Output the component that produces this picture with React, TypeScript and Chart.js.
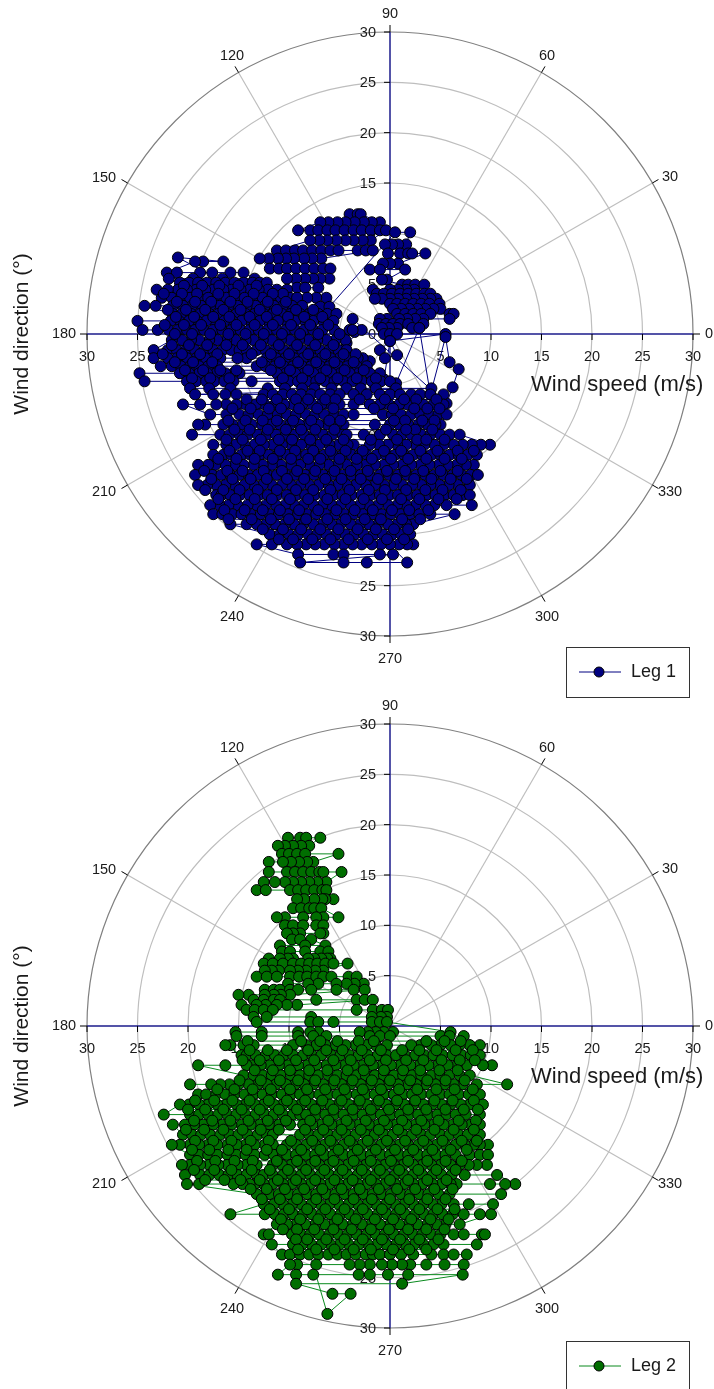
import React, { useEffect, useRef } from "react";
import { Chart, registerables } from "chart.js";

Chart.register(...registerables);

type Row = [number, number[]];

const radialTicks = [5, 10, 15, 20, 25, 30];
const angleTicks = [0, 30, 60, 90, 120, 150, 180, 210, 240, 270, 300, 330];

// Each row: [north component (m/s), east components (m/s)] of the wind vector
const leg1Cap: Row[] = [
  [11.9, [-4.0, -3.2, -2.9]],
  [11.1, [-6.9, -6.1, -5.2, -4.4, -3.5, -2.6, -1.8, -1.0]],
  [10.3, [-9.1, -7.9, -7.1, -6.2, -5.4, -4.5, -3.6, -2.8, -1.9, -1.0, -0.4]],
  [9.3, [-7.9, -7.0, -6.2, -5.3, -4.4, -3.6, -2.7, -1.9]],
  [8.3, [-11.2, -10.3, -9.4, -8.6, -7.7, -6.8, -5.9, -5.1, -3.2, -2.4, -1.7]],
  [7.5, [-12.9, -12.0, -11.1, -10.3, -9.5, -8.5, -7.7, -6.8]],
  [6.5, [-11.9, -11.0, -10.2, -9.3, -8.4, -7.5, -6.6, -5.9]],
  [5.5, [-10.2, -9.3, -8.4, -7.6, -6.9, -6.0]],
  [4.6, [-9.2, -8.4, -7.1]],
  [3.6, [-8.2, -7.3, -6.3]],
  [2.7, [-6.9, -6.0]],
];

const leg1Near: Row[] = [
  [10.1, [0.5, 2.0]],
  [8.9, [-0.5, 0.2, 0.8, 1.6]],
  [8.0, [-0.2, 1.0, 1.8, 2.2, 3.5]],
  [7.0, [-0.7, 0.0, 0.8]],
  [6.4, [-2.0, -1.0, 1.5]],
  [5.4, [-0.8, -0.3]],
  [4.9, [1.2, 1.8, 2.5, 3.4]],
  [4.4, [-1.7, 0.0, 0.8, 1.6, 2.4]],
  [4.0, [-1.3, -0.6, 0.2, 1.0, 1.8, 2.6, 3.4, 4.0]],
  [3.5, [-1.5, -0.8, 0.0, 0.8, 1.6, 2.4, 3.2, 4.0, 4.6]],
  [3.0, [0.0, 0.7, 1.5, 2.3, 3.1, 3.9, 4.9]],
  [2.5, [0.3, 1.1, 1.9, 2.7, 3.5, 4.3, 5.0]],
  [2.0, [0.7, 1.5, 2.3, 3.1, 4.0, 5.9, 6.3]],
  [1.5, [-1.0, -0.3, 0.9, 1.7, 2.5, 3.3, 5.9]],
  [1.0, [-1.1, -0.4, 0.3, 1.0, 1.8, 3.3]],
  [0.6, [-0.8, -0.1, 0.7, 2.2, 2.9]],
  [0.0, [-0.6, 0.0, 0.7, 5.5]],
];

const leg1Strays: [number, number][] = [
  [0.0, -0.7], [-1.0, -1.6], [-0.5, -2.4], [0.7, -2.1], [0.0, -0.7], [-0.6, -4.5], [0.6, -4.9],
  [2.9, 0.6], [4.0, -6.0], [5.5, -0.3], [5.9, -2.8], [6.8, -3.5], [6.2, -5.3], [5.6, -6.9],
  [-3.7, 1.5], [-4.0, 0.4], [-3.5, 0.2], [-2.8, 0.4], [-4.3, -0.9], [-3.4, -2.4], [-2.8, -3.0], [-2.0, -2.7],
];

const leg1West: Row[] = [
  [7.6, [-21.0]],
  [7.2, [-19.3, -18.5, -16.5]],
  [6.1, [-22.1, -21.1, -18.8, -17.6, -15.8, -14.5]],
  [5.5, [-21.9, -19.5, -16.6, -13.4]],
  [5.1, [-20.8, -19.9, -19.0, -18.1, -17.2, -16.3, -15.4, -14.5, -13.6, -12.9, -12.2]],
  [4.4, [-23.1, -22.0, -21.0, -20.1, -19.2, -18.3, -17.5, -16.5, -15.7, -14.8, -13.9, -13.0, -12.1, -11.2, -10.2]],
  [3.6, [-22.6, -21.6, -20.7, -19.8, -18.9, -18.0, -17.1, -16.2, -15.3, -14.4, -13.5, -12.6, -11.7, -10.8, -9.9, -9.2]],
  [2.8, [-24.3, -23.2, -21.5, -20.5, -19.6, -18.7, -17.8, -16.9, -16.0, -15.1, -14.2, -13.3, -12.4, -11.5, -10.6, -9.7, -8.7]],
  [2.0, [-21.5, -20.6, -19.7, -18.8, -17.9, -17.0, -16.1, -15.2, -14.3, -13.4, -12.5, -11.6, -10.7, -9.8, -8.9, -8.0, -7.1, -6.2, -5.3]],
  [1.3, [-25.0, -21.7, -20.9, -19.9, -19.1, -18.2, -17.4, -16.4, -15.6, -14.7, -13.8, -12.9, -12.1, -11.1, -10.3, -9.4, -8.4, -7.6, -6.6, -5.6]],
  [0.4, [-24.5, -23.0, -21.9, -21.0, -20.1, -19.3, -18.4, -17.5, -16.6, -15.7, -14.8, -13.9, -13.0, -12.1, -11.2, -10.3, -9.4, -8.5, -7.6, -6.7, -5.5, -3.7]],
  [-0.6, [-21.6, -20.6, -19.7, -18.9, -17.9, -17.1, -16.2, -15.3, -14.3, -13.5, -12.6, -11.7, -10.8, -9.9, -9.0, -8.1, -7.2, -6.3, -5.4, -4.4]],
  [-1.6, [-23.4, -22.0, -21.1, -20.2, -19.3, -18.4, -17.5, -16.6, -15.7, -14.9, -14.2, -13.2, -12.3, -11.4, -10.5, -9.6, -8.7, -7.8, -6.9, -6.0, -5.1, -4.3]],
  [-2.4, [-23.4, -22.0, -21.1, -20.1, -19.2, -18.3, -17.6, -16.8, -15.1, -14.2, -12.2, -11.3, -10.4, -9.5, -8.6, -7.7, -6.8, -5.9, -5.0, -4.1, -3.2, -2.7]],
  [-3.2, [-22.7, -21.6, -20.7, -19.8, -18.9, -18.0, -17.1, -13.2, -12.3, -11.4, -10.5, -9.6, -8.7, -7.8, -6.9, -6.0, -5.1, -4.2, -3.3, -2.3]],
  [-3.9, [-24.8, -20.8, -19.9, -18.9, -18.1, -17.2, -16.3, -15.5, -14.9, -11.2, -10.3, -9.4, -8.5, -7.6, -6.7, -5.8, -4.9, -4.0, -3.1, -2.0, -1.0]],
  [-4.7, [-24.3, -20.1, -19.2, -18.2, -17.4, -16.4, -15.5, -13.7, -10.9, -10.0, -9.1, -8.2, -7.3, -6.4, -5.5, -4.6, -3.7, -2.8, -1.8, -0.9, 0.0]],
];

const leg1WestExtra: Row[] = [
  [4.8, [-20.4, -18.6, -16.9, -15.0, -13.2]],
  [4.0, [-22.4, -20.6, -19.1, -17.0, -15.4, -13.5, -11.6, -10.6]],
  [3.2, [-21.1, -19.3, -17.7, -15.8, -14.1, -12.1, -10.3]],
  [2.4, [-22.0, -20.2, -18.3, -16.5, -14.8, -12.9, -11.2, -9.3, -7.6]],
  [1.7, [-21.2, -19.4, -17.5, -15.9, -13.9, -12.2, -10.1, -8.5, -6.7]],
  [0.9, [-22.3, -20.4, -18.7, -16.8, -15.2, -13.4, -11.6, -9.8, -7.9, -6.1]],
  [0.0, [-21.3, -19.6, -17.8, -16.0, -14.3, -12.5, -10.7, -8.9, -7.1, -5.0]],
  [-1.1, [-21.6, -19.9, -18.1, -16.2, -14.6, -12.8, -11.0, -9.2, -7.4, -5.6]],
  [-2.0, [-22.5, -20.6, -18.8, -17.1, -13.7, -11.8, -10.0, -8.1, -6.4, -4.6, -3.4]],
  [-2.8, [-21.3, -19.5, -17.6, -12.7, -10.9, -9.1, -7.3, -5.5, -3.6]],
  [-3.6, [-20.3, -18.5, -16.8, -15.2, -11.8, -9.9, -8.1, -6.3, -4.5, -2.6]],
  [-4.4, [-19.6, -17.8, -15.9, -10.6, -8.7, -6.9, -5.2, -3.3, -1.4]],
  [-5.4, [-19.8, -17.9, -15.8, -12.1, -10.4, -8.7, -7.5, -5.8, -4.3, -2.9, -1.4, 0.6, 4.1]],
];

const leg1South: Row[] = [
  [-6.0, [-19.3, -17.5, -16.3, -15.2, -12.5, -11.6, -10.6, -9.7, -8.8, -7.8, -6.9, -5.9, -5.0, -3.6, -2.3, -1.0, 0.0, 1.0, 2.1, 3.0, 4.0, 5.3]],
  [-7.0, [-20.5, -18.8, -17.2, -16.2, -15.2, -14.3, -13.3, -12.4, -11.4, -10.5, -9.6, -8.7, -7.7, -6.8, -5.9, -5.0, -3.6, -2.0, -1.0, -0.1, 0.9, 1.7, 3.3, 4.3, 5.3]],
  [-8.0, [-17.8, -16.2, -14.9, -14.0, -13.0, -12.1, -11.1, -10.2, -9.3, -8.3, -7.4, -6.5, -5.5, -4.6, -3.6, -0.7, 0.2, 1.1, 2.1, 3.0, 3.9, 4.8, 5.6]],
  [-9.0, [-19.0, -18.3, -16.5, -15.6, -14.6, -13.7, -12.7, -11.8, -10.9, -9.9, -9.0, -8.1, -7.1, -6.2, -5.3, -4.6, -1.5, 0.0, 0.9, 1.8, 2.8, 3.7, 4.5, 5.0]],
  [-10.0, [-19.6, -16.8, -15.9, -14.9, -14.1, -13.1, -12.2, -11.3, -10.3, -9.4, -8.5, -7.5, -6.6, -5.7, -4.7, -4.3, -2.6, -1.0, 0.3, 1.2, 2.1, 3.1, 4.0, 5.0, 5.9, 6.9]],
  [-11.0, [-17.5, -16.2, -15.3, -14.4, -13.4, -12.5, -11.6, -10.7, -9.8, -8.8, -7.9, -7.0, -6.0, -5.1, -4.2, -3.6, -2.0, -1.1, -0.2, 0.7, 1.6, 2.5, 3.4, 4.4, 5.3, 6.3, 7.2, 8.1, 9.0, 9.9]],
  [-12.0, [-17.5, -16.5, -15.7, -14.7, -13.8, -12.9, -12.0, -11.1, -10.2, -9.2, -8.3, -7.4, -6.5, -5.6, -4.7, -3.8, -3.0, -2.3, -1.3, -0.4, 0.5, 1.4, 2.3, 3.2, 4.1, 5.0, 5.9, 6.8, 7.7, 8.6]],
  [-13.0, [-19.0, -18.0, -17.3, -16.3, -15.4, -14.5, -13.5, -12.6, -11.7, -10.8, -9.8, -8.9, -8.0, -7.0, -6.1, -5.2, -4.3, -3.3, -2.4, -1.5, -0.6, 0.3, 1.2, 2.1, 3.0, 3.9, 4.8, 5.7, 6.6, 7.5, 8.3]],
  [-14.0, [-19.3, -17.6, -16.7, -15.8, -14.9, -14.0, -13.1, -12.1, -11.2, -10.3, -9.4, -8.4, -7.5, -6.6, -5.7, -4.7, -3.8, -2.9, -2.0, -1.0, -0.1, 0.8, 1.7, 2.6, 3.5, 4.4, 5.3, 6.2, 7.1, 8.0, 8.7]],
  [-15.0, [-19.0, -18.1, -17.2, -16.3, -15.4, -14.4, -13.5, -12.6, -11.7, -10.7, -9.8, -8.9, -8.0, -7.1, -6.1, -5.2, -4.3, -3.4, -2.4, -1.5, -0.6, 0.3, 1.2, 2.2, 3.1, 4.0, 4.9, 5.8, 6.7, 7.9]],
  [-16.0, [-17.2, -16.7, -15.8, -14.9, -13.9, -13.0, -12.1, -11.2, -10.2, -9.3, -8.4, -7.5, -6.5, -5.6, -4.7, -3.8, -2.8, -1.9, -1.0, -0.1, 0.8, 1.8, 2.7, 3.6, 4.5, 5.4, 6.3, 7.2, 7.9]],
  [-17.0, [-17.8, -16.9, -16.0, -15.1, -14.1, -13.2, -12.3, -11.3, -10.4, -9.5, -8.6, -7.6, -6.7, -5.8, -4.9, -3.9, -3.0, -2.1, -1.2, -0.2, 0.7, 1.6, 2.5, 3.5, 4.4, 5.6, 8.1]],
  [-17.9, [-17.5, -16.6, -15.6, -14.7, -13.8, -12.8, -11.9, -11.0, -10.1, -9.1, -8.2, -7.3, -6.4, -5.4, -4.5, -3.6, -2.7, -1.7, -0.8, 0.1, 1.0, 2.0, 2.9, 4.0, 6.4]],
  [-18.9, [-15.8, -14.2, -13.2, -12.3, -11.4, -10.4, -9.5, -8.6, -7.6, -6.7, -5.8, -4.9, -3.9, -3.0, -2.1, -1.2, -0.2, 0.7, 1.6, 2.3]],
  [-19.9, [-11.9, -10.9, -10.0, -9.1, -8.1, -7.2, -6.3, -5.3, -4.4, -3.5, -2.6, -1.6, -0.7, 0.2, 1.1, 2.0]],
  [-20.9, [-13.2, -11.7, -10.2, -9.2, -8.3, -7.4, -6.5, -5.5, -4.6, -3.7, -2.8, -1.8, -0.9, 0.0, 0.9, 1.7, 2.3]],
  [-21.9, [-9.1, -5.6, -4.6, -1.0, 0.3]],
  [-22.7, [1.7, -2.3, -4.6, -8.9]],
];

const leg1SouthExtra: Row[] = [
  [-6.5, [-14.2, -12.7, -11.2, -9.3, -8.1, -6.4, -5.4, -3.0, -0.5, 1.4, 2.6, 4.6]],
  [-7.4, [-15.6, -13.8, -12.0, -10.8, -9.0, -7.2, -5.6, -1.6, 0.3, 2.4, 3.7, 4.9]],
  [-8.6, [-16.0, -14.3, -12.6, -11.2, -9.6, -7.8, -6.0, -4.9, 0.4, 1.5, 3.2, 4.4]],
  [-9.5, [-15.4, -13.9, -12.1, -10.3, -8.8, -7.4, -5.5, -0.4, 1.6, 2.5, 4.2]],
  [-10.5, [-16.2, -14.6, -12.8, -11.0, -9.7, -7.9, -6.3, -4.6, -1.9, 0.7, 2.7, 3.6, 5.4]],
  [-11.6, [-15.9, -14.1, -12.9, -10.9, -9.4, -7.6, -5.9, -4.4, -2.7, -0.6, 1.1, 3.0, 4.7, 6.7, 8.3]],
  [-12.4, [-17.0, -15.2, -13.4, -11.6, -9.8, -8.1, -6.9, -5.0, -3.3, -1.8, 0.1, 1.8, 3.6, 5.4, 7.1]],
  [-13.6, [-18.4, -16.1, -14.6, -12.5, -10.7, -9.2, -7.4, -5.5, -3.9, -2.2, -0.3, 1.5, 3.3, 5.0, 6.7]],
  [-14.4, [-17.7, -15.6, -13.8, -12.2, -10.2, -8.5, -6.4, -4.8, -2.9, -1.2, 0.6, 2.4, 4.1, 6.0, 7.6]],
  [-15.5, [-18.3, -16.5, -14.9, -13.1, -11.2, -9.3, -7.6, -5.9, -4.0, -2.1, -0.5, 1.6, 3.5, 5.2, 7.0]],
  [-16.4, [-17.0, -15.3, -13.4, -11.7, -9.9, -8.1, -6.2, -4.4, -2.6, -0.8, 1.1, 2.9, 4.8, 6.6]],
  [-17.5, [-16.4, -14.4, -12.6, -10.9, -9.0, -7.1, -5.3, -3.5, -1.7, 0.2, 1.9, 3.8]],
  [-18.4, [-16.0, -13.7, -11.8, -10.0, -8.3, -6.2, -4.4, -2.5, -0.9, 1.2, 3.0]],
  [-19.4, [-12.6, -10.6, -8.8, -6.9, -5.1, -3.2, -1.4, 0.4, 1.8]],
  [-20.4, [-11.0, -9.6, -7.7, -5.9, -4.1, -2.2, -0.3, 1.4]],
];

const leg2Tower: Row[] = [
  [18.7, [-10.1, -8.9, -8.3, -6.9]],
  [17.9, [-11.1, -10.4, -9.6, -8.8, -8.0]],
  [17.1, [-10.7, -10.0, -9.2, -8.4, -5.1]],
  [16.3, [-12.0, -10.6, -9.8, -9.0, -8.2, -7.6]],
  [15.3, [-12.0, -10.2, -9.4, -8.6, -7.8, -7.0, -6.6, -4.8]],
  [14.3, [-12.5, -11.4, -10.4, -9.6, -8.8, -8.0, -7.2, -6.3]],
  [13.5, [-13.2, -12.3, -9.9, -9.1, -8.3, -7.5, -6.7, -6.3]],
  [12.6, [-9.2, -8.5, -7.5, -6.7, -6.4, -5.6]],
  [11.7, [-9.6, -8.8, -8.0, -7.5, -6.8]],
  [10.8, [-11.2, -10.4, -8.6, -7.3, -6.6, -5.1]],
  [10.0, [-10.4, -9.6, -8.6, -7.3, -6.6]],
  [9.2, [-10.2, -9.6, -8.9, -6.9, -6.6]],
  [8.6, [-9.7, -8.9, -7.8]],
  [8.0, [-10.9, -8.4, -6.4]],
  [7.4, [-10.7, -9.9, -8.4, -6.9, -6.1]],
  [6.7, [-12.0, -10.9, -10.1, -9.6, -8.1, -7.5, -6.8, -6.2, -5.9]],
  [6.2, [-12.5, -11.6, -10.6, -9.6, -8.8, -8.0, -7.2, -6.4, -5.6, -4.2]],
  [5.5, [-12.4, -11.7, -11.0, -9.9, -9.1, -8.3, -7.4, -6.6]],
  [4.9, [-13.2, -12.2, -11.2, -9.9, -9.0, -8.2, -7.3, -6.6, -5.8, -4.1, -3.3]],
  [4.2, [-10.1, -8.1, -7.1, -5.3, -4.3, -3.5, -2.6]],
  [3.6, [-12.4, -11.5, -10.9, -9.9, -9.1, -7.8, -5.3, -3.6, -2.5]],
  [3.1, [-15.0, -14.0, -12.4, -11.5, -10.8, -9.9]],
  [2.6, [-13.5, -12.5, -11.5, -10.9, -7.3, -3.3, -2.5, -1.7]],
  [2.1, [-14.7, -13.2, -12.3, -11.2, -10.2, -9.2]],
  [1.6, [-14.2, -13.4, -12.5, -11.6, -3.3, -1.7, -0.8, -0.2]],
  [0.9, [-13.5, -12.2, -7.8, -1.8, -0.9, -0.3]],
  [0.4, [-13.2, -7.9, -7.1, -5.6, -1.8, -1.0, -0.3]],
  [-0.6, [-15.3, -12.7, -9.1, -7.9, -7.1, -3.0, -2.2, -1.4, -0.6, 0.3, 6.0]],
];

const leg2Main: Row[] = [
  [-1.0, [-15.2, -12.7, -9.1, -7.6, -6.3, -2.0, -1.0, 0.0, 5.0, 5.9, 7.3]],
  [-1.9, [-16.3, -15.8, -14.5, -13.5, -9.6, -8.3, -7.3, -6.4, -5.4, -4.4, -3.4, -2.3, -1.4, -0.3, 2.1, 3.0, 4.1, 5.0, 6.0, 6.9, 7.9, 8.9]],
  [-2.9, [-14.7, -14.2, -13.3, -12.3, -11.4, -10.5, -9.6, -8.6, -7.7, -6.8, -5.8, -4.9, -4.0, -3.1, -2.2, -1.2, -0.3, 0.6, 1.5, 2.5, 3.4, 4.3, 5.2, 6.2, 7.1, 8.0, 8.9]],
  [-3.9, [-19.0, -16.3, -14.2, -13.7, -12.8, -11.9, -11.0, -10.1, -9.1, -8.2, -7.3, -6.3, -5.4, -4.5, -3.6, -2.7, -1.7, -0.8, 0.1, 1.0, 2.0, 2.9, 3.8, 4.7, 5.7, 6.6, 7.6, 9.2, 10.1]],
  [-4.9, [-14.5, -13.5, -12.6, -11.7, -10.8, -9.8, -8.9, -8.0, -7.1, -6.1, -5.2, -4.3, -3.3, -2.4, -1.5, -0.6, 0.4, 1.3, 2.2, 3.1, 4.1, 5.0, 5.9, 6.9, 7.9]],
  [-5.8, [-19.8, -17.7, -16.8, -15.9, -15.0, -14.0, -13.1, -12.2, -11.3, -10.3, -9.4, -8.5, -7.6, -6.6, -5.7, -4.8, -3.9, -2.9, -2.0, -1.1, -0.2, 0.8, 1.7, 2.6, 3.5, 4.5, 5.4, 6.3, 7.2, 8.6, 11.6]],
  [-6.8, [-19.0, -18.2, -17.2, -16.3, -15.4, -14.4, -13.5, -12.6, -11.7, -10.7, -9.8, -8.9, -8.0, -7.0, -6.1, -5.2, -4.3, -3.3, -2.4, -1.5, -0.6, 0.4, 1.3, 2.2, 3.1, 4.1, 5.0, 5.9, 6.8, 7.8, 8.9]],
  [-7.8, [-20.8, -19.9, -18.9, -18.0, -17.1, -16.2, -15.2, -14.3, -13.4, -12.5, -11.5, -10.6, -9.7, -8.8, -7.8, -6.9, -6.0, -5.1, -4.1, -3.2, -2.3, -1.4, -0.4, 0.5, 1.4, 2.3, 3.3, 4.2, 5.1, 6.0, 7.0, 7.9, 9.2]],
  [-8.8, [-22.4, -19.8, -18.9, -18.0, -17.0, -16.1, -15.2, -14.3, -13.3, -12.4, -11.5, -10.6, -9.6, -8.9, -8.3, -7.3, -6.4, -5.5, -4.6, -3.6, -2.7, -1.8, -0.9, 0.1, 1.0, 1.9, 2.8, 3.8, 4.7, 5.6, 6.5, 7.5, 8.9]],
  [-9.8, [-21.5, -20.3, -19.4, -18.5, -17.5, -16.6, -15.7, -14.7, -13.8, -12.9, -12.0, -11.0, -9.9, -8.6, -7.7, -6.8, -5.8, -4.9, -4.0, -3.1, -2.1, -1.2, -0.3, 0.6, 1.6, 2.5, 3.4, 4.3, 5.3, 6.2, 7.1, 8.0, 8.9]],
  [-10.8, [-20.5, -19.6, -18.7, -17.8, -16.8, -15.9, -15.0, -14.1, -13.1, -12.2, -11.6, -8.9, -8.0, -7.1, -6.1, -5.2, -4.3, -3.4, -2.4, -1.5, -0.6, 0.3, 1.3, 2.2, 3.1, 4.0, 5.0, 5.9, 6.8, 7.7, 8.9]],
  [-11.8, [-21.6, -20.8, -19.8, -18.9, -18.0, -17.1, -16.1, -15.2, -14.3, -13.4, -12.4, -11.6, -10.2, -9.3, -8.3, -7.4, -6.5, -5.6, -4.6, -3.7, -2.8, -1.9, -0.9, 0.0, 0.9, 1.8, 2.8, 3.7, 4.6, 5.5, 6.5, 7.4, 8.3, 8.9, 9.7]],
  [-12.8, [-19.8, -18.9, -18.0, -17.1, -16.1, -15.2, -14.3, -13.4, -12.4, -11.5, -10.6, -10.2, -9.3, -8.3, -7.4, -6.5, -5.6, -4.6, -3.7, -2.8, -1.9, -0.9, 0.0, 0.9, 1.8, 2.8, 3.7, 4.6, 5.5, 6.5, 7.9, 8.9, 9.7]],
  [-13.8, [-20.6, -19.8, -18.8, -17.9, -17.0, -16.1, -15.1, -14.2, -13.2, -11.6, -10.7, -9.8, -8.8, -7.9, -7.0, -6.1, -5.1, -4.2, -3.3, -2.4, -1.4, -0.5, 0.4, 1.3, 2.3, 3.2, 4.1, 5.0, 6.0, 6.9, 7.8, 8.6, 9.6]],
  [-14.8, [-20.3, -18.8, -17.9, -16.9, -16.0, -15.1, -14.2, -13.2, -12.5, -11.6, -10.6, -9.7, -8.8, -7.9, -6.9, -6.0, -5.1, -4.2, -3.2, -2.3, -1.4, -0.5, 0.5, 1.4, 2.3, 3.2, 4.2, 5.1, 6.1, 7.4, 10.6]],
  [-15.7, [-20.1, -18.9, -15.5, -14.6, -13.9, -13.4, -12.5, -11.6, -10.6, -9.7, -8.8, -7.9, -6.9, -6.0, -5.1, -4.2, -3.2, -2.3, -1.4, -0.5, 0.5, 1.4, 2.3, 3.2, 4.2, 5.1, 6.0, 6.6, 9.9, 11.4, 12.4]],
  [-16.7, [-13.2, -11.9, -11.0, -10.0, -9.1, -8.2, -7.3, -6.3, -5.4, -4.5, -3.6, -2.6, -1.7, -0.8, 0.1, 1.1, 2.0, 2.9, 3.8, 4.8, 5.9, 11.0]],
  [-17.7, [-12.5, -11.5, -10.6, -9.7, -8.8, -7.8, -6.9, -6.0, -5.1, -4.1, -3.2, -2.3, -1.4, -0.4, 0.5, 1.4, 2.3, 3.3, 4.2, 5.1, 6.3, 7.8, 10.2]],
  [-18.7, [-15.8, -12.4, -11.4, -10.5, -9.6, -8.6, -7.7, -6.8, -5.9, -4.9, -4.0, -3.1, -2.2, -1.2, -0.3, 0.6, 1.5, 2.5, 3.4, 4.3, 5.2, 6.2, 7.3, 8.9, 10.0]],
  [-19.7, [-11.2, -10.2, -9.3, -8.4, -7.4, -6.5, -5.6, -4.7, -3.7, -2.8, -1.9, -1.0, 0.0, 0.9, 1.8, 2.7, 3.7, 4.6, 5.5, 6.9]],
  [-20.7, [-12.5, -12.0, -9.7, -8.8, -7.9, -7.0, -6.0, -5.1, -4.2, -3.3, -2.3, -1.4, -0.5, 0.4, 1.4, 2.3, 3.2, 4.1, 5.0, 6.3, 7.3, 9.1, 9.4]],
  [-21.7, [-11.7, -9.6, -8.7, -7.8, -6.8, -5.9, -5.0, -4.1, -3.1, -2.2, -1.3, -0.4, 0.6, 1.5, 2.4, 3.3, 4.3, 5.3, 8.6]],
  [-22.7, [-10.7, -9.9, -8.9, -8.0, -7.1, -6.1, -5.2, -4.3, -3.4, -2.4, -1.7, -1.0, 0.0, 1.1, 2.3, 4.1, 5.3, 6.3, 7.6]],
  [-23.7, [-9.9, -9.2, -7.3, -4.0, -3.0, -2.0, -0.8, 0.2, 1.2, 2.0, 3.6, 5.4, 7.3]],
  [-24.7, [-11.1, -9.3, -7.6, -3.1, -2.0, -0.2, 1.8, 7.2]],
  [-25.6, [-9.3, 1.2]],
  [-26.6, [-5.7, -3.9]],
  [-28.6, [-6.2]],
];

const leg2MainExtra: Row[] = [
  [-1.5, [-14.1, -8.8, -6.9, -5.2, -3.1, -1.6, 3.6, 5.4, 7.0]],
  [-2.4, [-13.9, -12.1, -10.2, -8.1, -6.3, -4.7, -2.8, -0.9, 1.2, 2.9, 4.6, 6.5, 8.2]],
  [-3.4, [-14.6, -12.9, -11.0, -9.3, -7.5, -5.6, -3.9, -2.0, -0.4, 1.6, 3.3, 5.1, 6.9, 8.4]],
  [-4.4, [-13.4, -11.6, -9.9, -8.0, -6.2, -4.2, -2.6, -0.6, 1.3, 3.0, 4.9, 6.7]],
  [-5.4, [-14.9, -12.8, -10.9, -9.1, -7.4, -5.5, -3.7, -1.8, 0.0, 2.0, 3.7, 5.5, 7.4]],
  [-6.3, [-17.1, -15.4, -13.6, -11.8, -9.9, -8.2, -6.4, -4.5, -2.7, -0.9, 0.9, 2.7, 4.6, 6.4, 8.2]],
  [-7.4, [-19.3, -17.4, -15.6, -13.9, -12.0, -10.2, -8.4, -6.7, -4.8, -3.0, -1.1, 0.7, 2.5, 4.4, 6.2, 8.3]],
  [-8.3, [-20.0, -18.3, -16.5, -14.7, -12.9, -11.0, -9.2, -7.4, -5.6, -3.7, -1.9, -0.1, 1.8, 3.6, 5.5, 7.3, 8.7]],
  [-9.4, [-19.4, -17.6, -15.8, -14.0, -12.1, -10.3, -7.9, -6.1, -4.3, -2.4, -0.6, 1.2, 3.1, 4.8, 6.8, 8.5]],
  [-10.3, [-20.2, -18.4, -16.5, -14.6, -12.8, -11.0, -8.4, -6.6, -4.8, -2.9, -1.1, 0.8, 2.6, 4.4, 6.3, 8.3]],
  [-11.4, [-19.3, -17.5, -15.7, -13.8, -12.0, -9.8, -7.7, -5.9, -4.0, -2.2, -0.3, 1.5, 3.3, 5.2, 7.1, 8.6]],
  [-12.3, [-19.6, -17.9, -16.0, -14.2, -12.2, -10.7, -8.8, -6.9, -5.1, -3.2, -1.4, 0.5, 2.3, 4.2, 6.0, 7.6]],
  [-13.4, [-19.1, -17.3, -15.4, -13.6, -11.2, -9.2, -7.4, -5.6, -3.6, -1.9, 0.1, 1.8, 3.7, 5.5, 7.1]],
  [-14.3, [-19.4, -17.4, -15.7, -13.7, -11.9, -10.1, -8.3, -6.5, -4.7, -2.8, -1.0, 0.9, 2.8, 4.6, 6.5]],
  [-15.3, [-18.3, -16.4, -14.8, -12.9, -11.1, -9.3, -7.4, -5.5, -3.7, -1.9, 0.0, 1.8, 3.7, 5.6]],
  [-16.2, [-13.8, -12.2, -10.4, -8.5, -6.7, -4.8, -3.0, -1.1, 0.7, 2.5, 4.4, 6.2]],
  [-17.2, [-12.7, -10.9, -9.2, -7.3, -5.5, -3.6, -1.8, 0.0, 1.9, 3.7, 5.5]],
  [-18.2, [-11.9, -10.0, -8.2, -6.4, -4.5, -2.7, -0.8, 1.0, 2.9, 4.7, 6.4]],
  [-19.2, [-10.8, -8.9, -7.1, -5.2, -3.4, -1.5, 0.3, 2.1, 4.0, 5.8]],
  [-20.2, [-10.6, -9.2, -7.5, -5.6, -3.8, -1.9, -0.1, 1.8, 3.6, 5.4]],
  [-21.2, [-9.3, -8.2, -6.3, -4.5, -2.7, -0.8, 1.0, 2.9, 4.8]],
  [-22.2, [-9.1, -7.3, -5.5, -3.6, -1.9, 0.3, 1.9, 3.6]],
];

const serpentine = (rows: Row[]) =>
  rows.flatMap(([north, easts], i) =>
    (i % 2 ? [...easts].reverse() : easts).map((east) => ({ x: east, y: north }))
  );

const leg1Points = [
  ...serpentine(leg1Cap),
  ...serpentine(leg1Near),
  ...leg1Strays.map(([x, y]) => ({ x, y })),
  ...serpentine(leg1West),
  ...serpentine(leg1WestExtra),
  ...serpentine(leg1South),
  ...serpentine(leg1SouthExtra),
];
const leg2Points = [...serpentine(leg2Tower), ...serpentine(leg2Main), ...serpentine(leg2MainExtra)];

const FONT = "Liberation Sans, Arial, sans-serif";

// Pixel offset of each angle label from the plot centre
const angleLabelOffset: Record<number, [number, number]> = {
  0: [319, 0], 30: [280, -157], 60: [157, -278], 90: [0, -320],
  120: [-158, -278], 150: [-286, -156], 180: [-326, 0], 210: [-286, 158],
  240: [-158, 283], 270: [0, 325], 300: [157, 283], 330: [280, 158],
};

function polarFrame(label: string, markColor: string, boxColor: string, legendTop: number) {
  return {
    id: "polarFrame",
    beforeDatasetsDraw(chart: any) {
      const { ctx, scales } = chart;
      const sx = scales.x, sy = scales.y;
      const cx = sx.getPixelForValue(0), cy = sy.getPixelForValue(0);
      const rx = (v: number) => sx.getPixelForValue(v) - cx;
      const ry = (v: number) => cy - sy.getPixelForValue(v);
      ctx.save();
      // Spokes
      ctx.strokeStyle = "#bebebe";
      ctx.lineWidth = 1.2;
      angleTicks.forEach((a) => {
        if (a % 90 === 0) return;
        const t = (a * Math.PI) / 180;
        ctx.beginPath();
        ctx.moveTo(cx, cy);
        ctx.lineTo(cx + rx(30) * Math.cos(t), cy - ry(30) * Math.sin(t));
        ctx.stroke();
      });
      // Rings
      radialTicks.forEach((v) => {
        ctx.strokeStyle = v === 30 ? "#808080" : "#bebebe";
        ctx.beginPath();
        ctx.ellipse(cx, cy, rx(v), ry(v), 0, 0, Math.PI * 2);
        ctx.stroke();
      });
      // Outer ticks and angle labels
      ctx.fillStyle = "#1a1a1a";
      ctx.font = `14.5px ${FONT}`;
      ctx.textAlign = "center";
      ctx.textBaseline = "middle";
      angleTicks.forEach((a) => {
        const t = (a * Math.PI) / 180;
        const c = Math.cos(t), s = Math.sin(t);
        ctx.strokeStyle = "#000";
        ctx.lineWidth = 1;
        ctx.beginPath();
        ctx.moveTo(cx + rx(30) * c, cy - ry(30) * s);
        ctx.lineTo(cx + (rx(30) + 7) * c, cy - (ry(30) + 7) * s);
        ctx.stroke();
        const [dx, dy] = angleLabelOffset[a];
        ctx.fillText(String(a), cx + dx, cy + dy);
      });
      // Blue axes
      ctx.strokeStyle = "#1c1c8c";
      ctx.lineWidth = 1.5;
      ctx.beginPath();
      ctx.moveTo(cx - rx(30), cy);
      ctx.lineTo(cx + rx(30), cy);
      ctx.moveTo(cx, cy - ry(30));
      ctx.lineTo(cx, cy + ry(30));
      ctx.stroke();
      // Axis ticks and radial labels
      ctx.strokeStyle = "#000";
      ctx.lineWidth = 1;
      radialTicks.forEach((v) => {
        [1, -1].forEach((d) => {
          ctx.beginPath();
          ctx.moveTo(cx + d * rx(v), cy);
          ctx.lineTo(cx + d * rx(v), cy + 6);
          ctx.moveTo(cx, cy - d * ry(v));
          ctx.lineTo(cx - 6, cy - d * ry(v));
          ctx.stroke();
          ctx.textAlign = "center";
          ctx.fillText(String(v), cx + d * rx(v), cy + 23);
          ctx.textAlign = "right";
          ctx.fillText(String(v), cx - 14, cy - d * ry(v) + 1);
        });
      });
      ctx.fillText("0", cx - 14, cy + 1);
      ctx.restore();
    },
    afterDatasetsDraw(chart: any) {
      const { ctx, scales } = chart;
      const cy = scales.y.getPixelForValue(0);
      ctx.save();
      ctx.fillStyle = "#1a1a1a";
      ctx.font = `22px ${FONT}`;
      ctx.textAlign = "left";
      ctx.textBaseline = "middle";
      ctx.fillText("Wind speed (m/s)", 531, cy + 51);
      ctx.save();
      ctx.translate(22, cy);
      ctx.rotate(-Math.PI / 2);
      ctx.textAlign = "center";
      ctx.font = `21px ${FONT}`;
      ctx.fillText("Wind direction (\u00b0)", 0, 0);
      ctx.restore();
      // Legend box
      ctx.strokeStyle = "#333";
      ctx.lineWidth = 1;
      ctx.strokeRect(566.5, legendTop + 0.5, 123, 50);
      const ly = legendTop + 25;
      ctx.strokeStyle = boxColor;
      ctx.beginPath();
      ctx.moveTo(579, ly);
      ctx.lineTo(621, ly);
      ctx.stroke();
      ctx.fillStyle = markColor;
      ctx.strokeStyle = "#000";
      ctx.beginPath();
      ctx.arc(599, ly, 5, 0, Math.PI * 2);
      ctx.fill();
      ctx.stroke();
      ctx.fillStyle = "#1a1a1a";
      ctx.font = `18px ${FONT}`;
      ctx.fillText(label, 631, ly);
      ctx.restore();
    },
  };
}

function PolarPanel(props: {
  label: string; points: { x: number; y: number }[]; fill: string; line: string;
  top: number; height: number; legendTop: number;
}) {
  const ref = useRef<HTMLCanvasElement>(null);
  useEffect(() => {
    const chart = new Chart(ref.current as HTMLCanvasElement, {
      type: "scatter",
      data: {
        datasets: [{
          label: props.label,
          data: props.points,
          showLine: true,
          borderColor: props.line,
          borderWidth: 1,
          pointRadius: 5.5,
          pointBorderWidth: 1,
          pointBorderColor: "#000",
          pointBackgroundColor: props.fill,
        }],
      },
      options: {
        animation: false,
        responsive: false,
        maintainAspectRatio: false,
        layout: { padding: { left: 87, right: 21, top: 32, bottom: props.height - 636 } },
        plugins: { legend: { display: false }, tooltip: { enabled: false } },
        scales: {
          x: { type: "linear", min: -30, max: 30, display: false },
          y: { type: "linear", min: -30, max: 30, display: false },
        },
      },
      plugins: [polarFrame(props.label, props.fill, props.line, props.legendTop)],
    } as any);
    return () => chart.destroy();
  }, []);
  return (
    <canvas
      ref={ref}
      width={714}
      height={props.height}
      style={{ position: "absolute", left: 0, top: props.top, width: 714, height: props.height, display: "block" }}
    />
  );
}

export default function App() {
  return (
    <div style={{ position: "absolute", left: 0, top: 0, width: 714, height: 1389, overflow: "hidden", background: "#fff" }}>
      <PolarPanel label="Leg 1" points={leg1Points} fill="#000080" line="#000080" top={0} height={700} legendTop={647} />
      <PolarPanel label="Leg 2" points={leg2Points} fill="#006e00" line="#0a8a1e" top={692} height={697} legendTop={649} />
    </div>
  );
}
